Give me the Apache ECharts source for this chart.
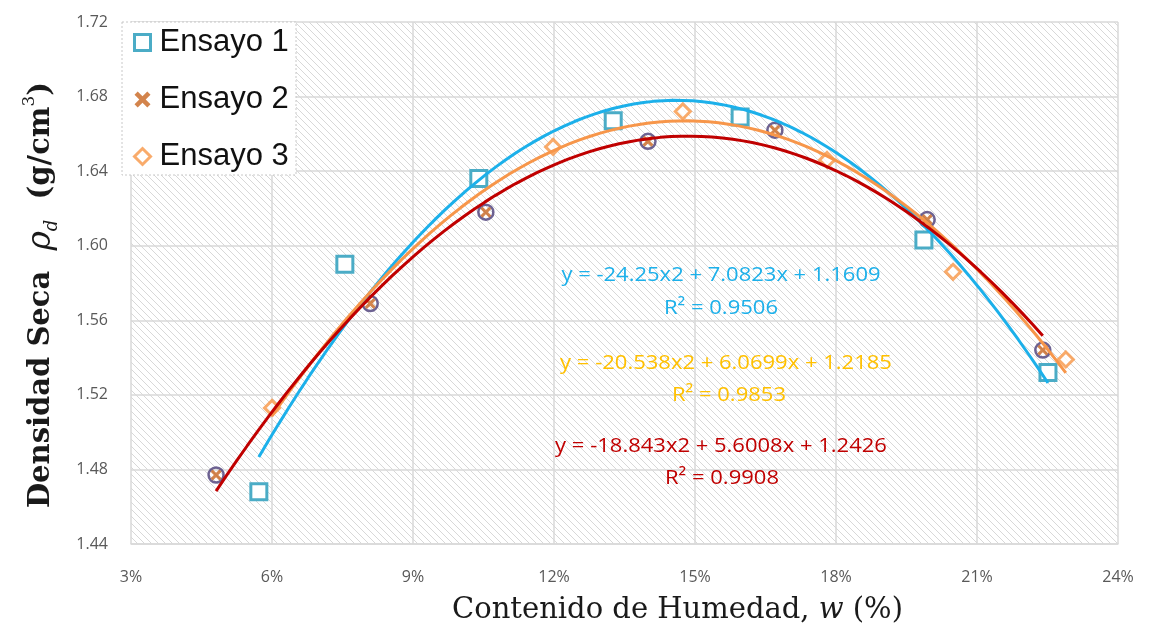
<!DOCTYPE html>
<html>
<head>
<meta charset="utf-8">
<script src="https://cdn.jsdelivr.net/npm/echarts@6/dist/echarts.min.js"></script>
<style>
  html, body { margin: 0; padding: 0; background: #ffffff; }
  #chart { width: 1154px; height: 630px; }
</style>
</head>
<body>
<div id="chart"></div>
<script>
// Moisture content (%) and dry density (g/cm3) for each test run
const ensayo1X = [5.72, 7.55, 10.40, 13.26, 15.96, 19.87, 22.51];
const ensayo1Y = [1.468, 1.590, 1.636, 1.667, 1.669, 1.603, 1.532];
const ensayo2X = [4.81, 8.09, 10.55, 14.00, 16.70, 19.94, 22.40];
const ensayo2Y = [1.477, 1.569, 1.618, 1.656, 1.662, 1.614, 1.544];
const ensayo3X = [6.00, 11.98, 14.74, 17.81, 20.49, 22.89];
const ensayo3Y = [1.513, 1.653, 1.672, 1.646, 1.586, 1.539];

// Quadratic trendline coefficients (a, b, c) for y = a*w^2 + b*w + c, w as a fraction
const fit1 = [-24.25, 7.0823, 1.1609];
const fit2 = [-18.843, 5.6008, 1.2426];
const fit3 = [-20.538, 6.0699, 1.2185];
const r2Values = ['0.9506', '0.9853', '0.9908'];

const xTicks = ['3%', '6%', '9%', '12%', '15%', '18%', '21%', '24%'];

function pairs(xs, ys) { return xs.map((x, i) => [x, ys[i]]); }

// Sample the fitted parabola across the span of a run's measurements
function trend(coef, xs) {
  const lo = Math.min(...xs), hi = Math.max(...xs);
  const out = [];
  const n = 80;
  for (let i = 0; i <= n; i++) {
    const w = lo + (hi - lo) * i / n;
    const f = w / 100;
    out.push([w, coef[0] * f * f + coef[1] * f + coef[2]]);
  }
  return out;
}

function eqText(c) {
  const fmt = v => (v < 0 ? '-' : '') + Math.abs(v);
  return 'y = ' + fmt(c[0]) + 'x2 + ' + c[1] + 'x + ' + c[2];
}

// Diagonal hatch fill for the plot area
const hatch = document.createElement('canvas');
hatch.width = 7; hatch.height = 7;
(function () {
  const g = hatch.getContext('2d');
  g.fillStyle = '#ffffff';
  g.fillRect(0, 0, 7, 7);
  g.strokeStyle = '#d8d8d8';
  g.lineWidth = 1;
  for (let k = -1; k <= 1; k++) {
    g.beginPath();
    g.moveTo(k * 7, 0);
    g.lineTo(k * 7 + 7, 7);
    g.stroke();
  }
})();

const crossPath = 'path://M2,0 L5,3 L8,0 L10,2 L7,5 L10,8 L8,10 L5,7 L2,10 L0,8 L3,5 L0,2 Z';

const blueMarker = '#4bacc6';
const brownMarker = '#c8651f';
const orangeMarker = '#f79646';
const blueLine = '#1cb0ea';
const redLine = '#c00000';
const orangeLine = '#f7964a';

const tickFont = "'Open Sans', sans-serif";
const eqFont = "'Open Sans', 'Liberation Sans', sans-serif";
const serif = "'DejaVu Serif', serif";

function eqLabel(text, x, y, color) {
  return {
    type: 'text', z: 10, x: x, y: y, scaleX: 1.1, silent: true,
    style: { text: text, fill: color, font: '20px ' + eqFont, textAlign: 'center', textVerticalAlign: 'middle' }
  };
}

const chart = echarts.init(document.getElementById('chart'));

chart.setOption({
  backgroundColor: '#ffffff',
  animation: false,
  grid: {
    left: 131, top: 22, width: 987, height: 526,
    show: true,
    borderWidth: 0,
    backgroundColor: { image: hatch, repeat: 'repeat' }
  },
  xAxis: {
    type: 'value',
    min: 3, max: 24, interval: 3,
    axisLine: { show: true, lineStyle: { color: '#d9d9d9', width: 1.5 } },
    axisTick: { show: false },
    splitLine: { show: true, lineStyle: { color: '#d9d9d9', width: 1.5 } },
    axisLabel: {
      margin: 25, color: '#595959', fontSize: 16, fontFamily: tickFont,
      formatter: v => xTicks[Math.round((v - 3) / 3)]
    },
    name: '{t|Contenido de Humedad, }{i|w}{t| (%)}',
    nameLocation: 'middle',
    nameGap: 52,
    nameTextStyle: {
      padding: [0, 0, 0, 106],
      rich: {
        t: { fontFamily: serif, fontSize: 29, color: '#1a1a1a' },
        i: { fontFamily: serif, fontStyle: 'italic', fontSize: 29, color: '#1a1a1a' }
      }
    }
  },
  yAxis: {
    type: 'value',
    min: 1.44, max: 1.72, interval: 0.04,
    axisLine: { show: false },
    axisTick: { show: false },
    splitLine: { show: true, lineStyle: { color: '#d9d9d9', width: 1.5 } },
    axisLabel: {
      margin: 23, color: '#595959', fontSize: 16, fontFamily: tickFont,
      formatter: v => v.toFixed(2)
    },
    name: '{t|Densidad Seca  }{r|ρ}{s|d}{t|  (g/cm}{p|3}{t|)}',
    nameLocation: 'middle',
    nameRotate: 90,
    nameGap: 70,
    nameTextStyle: {
      padding: [0, 24, 0, 0],
      rich: {
        t: { fontFamily: serif, fontSize: 29, fontWeight: 'bold', color: '#1a1a1a', lineHeight: 40, verticalAlign: 'middle' },
        r: { fontFamily: serif, fontStyle: 'italic', fontSize: 33, color: '#1a1a1a', lineHeight: 40, verticalAlign: 'middle' },
        s: { fontFamily: serif, fontStyle: 'italic', fontSize: 18, color: '#1a1a1a', lineHeight: 40, verticalAlign: 'bottom' },
        p: { fontFamily: serif, fontSize: 17, color: '#1a1a1a', lineHeight: 40, verticalAlign: 'top' }
      }
    }
  },
  legend: {
    orient: 'vertical',
    left: 128, top: 22,
    itemWidth: 16, itemHeight: 16,
    itemGap: 26,
    textStyle: { fontFamily: "'Liberation Sans', Arial, sans-serif", fontSize: 31, color: '#111111', padding: [0, 0, 0, 4] },
    data: [
      { name: 'Ensayo 1', icon: 'rect', itemStyle: { color: '#ffffff', borderColor: blueMarker, borderWidth: 3 } },
      { name: 'Ensayo 2', icon: crossPath, itemStyle: { color: brownMarker, borderWidth: 0 } },
      { name: 'Ensayo 3', icon: 'diamond', itemStyle: { color: '#ffffff', borderColor: orangeMarker, borderWidth: 3 } }
    ]
  },
  graphic: [
    {
      type: 'rect', z: 1, silent: true,
      shape: { x: 122, y: 22, width: 174, height: 153 },
      style: { fill: '#ffffff', stroke: '#c8c8c8', lineWidth: 1, lineDash: [2, 2] }
    },
    eqLabel(eqText(fit1), 721, 275, blueLine),
    eqLabel('R² = ' + r2Values[0], 721, 308, blueLine),
    eqLabel(eqText(fit3), 726, 363, '#ffc000'),
    eqLabel('R² = ' + r2Values[1], 729, 395, '#ffc000'),
    eqLabel(eqText(fit2), 721, 446, redLine),
    eqLabel('R² = ' + r2Values[2], 722, 478, redLine)
  ],
  series: [
    {
      name: 'Ensayo 1', type: 'scatter', z: 3,
      symbol: 'rect', symbolSize: 16,
      itemStyle: { color: '#ffffff', borderColor: blueMarker, borderWidth: 3, opacity: 1 },
      data: pairs(ensayo1X, ensayo1Y)
    },
    {
      name: 'Ensayo 2 ring', type: 'scatter', z: 3,
      symbol: 'circle', symbolSize: 15,
      itemStyle: { color: 'rgba(0,0,0,0)', borderColor: '#4a3c78', borderWidth: 2.5 },
      data: pairs(ensayo2X, ensayo2Y)
    },
    {
      name: 'Ensayo 2', type: 'scatter', z: 4,
      symbol: crossPath, symbolSize: 11,
      itemStyle: { color: brownMarker },
      data: pairs(ensayo2X, ensayo2Y)
    },
    {
      name: 'Ensayo 3', type: 'scatter', z: 3,
      symbol: 'diamond', symbolSize: 15,
      itemStyle: { color: '#ffffff', borderColor: orangeMarker, borderWidth: 3 },
      data: pairs(ensayo3X, ensayo3Y)
    },
    {
      name: 'Tendencia 1', type: 'line', z: 5, showSymbol: false, smooth: false,
      lineStyle: { color: blueLine, width: 3 },
      data: trend(fit1, ensayo1X)
    },
    {
      name: 'Tendencia 3', type: 'line', z: 5, showSymbol: false, smooth: false,
      lineStyle: { color: orangeLine, width: 3 },
      data: trend(fit3, ensayo3X)
    },
    {
      name: 'Tendencia 2', type: 'line', z: 6, showSymbol: false, smooth: false,
      lineStyle: { color: redLine, width: 3 },
      data: trend(fit2, ensayo2X)
    }
  ]
});
</script>
</body>
</html>
